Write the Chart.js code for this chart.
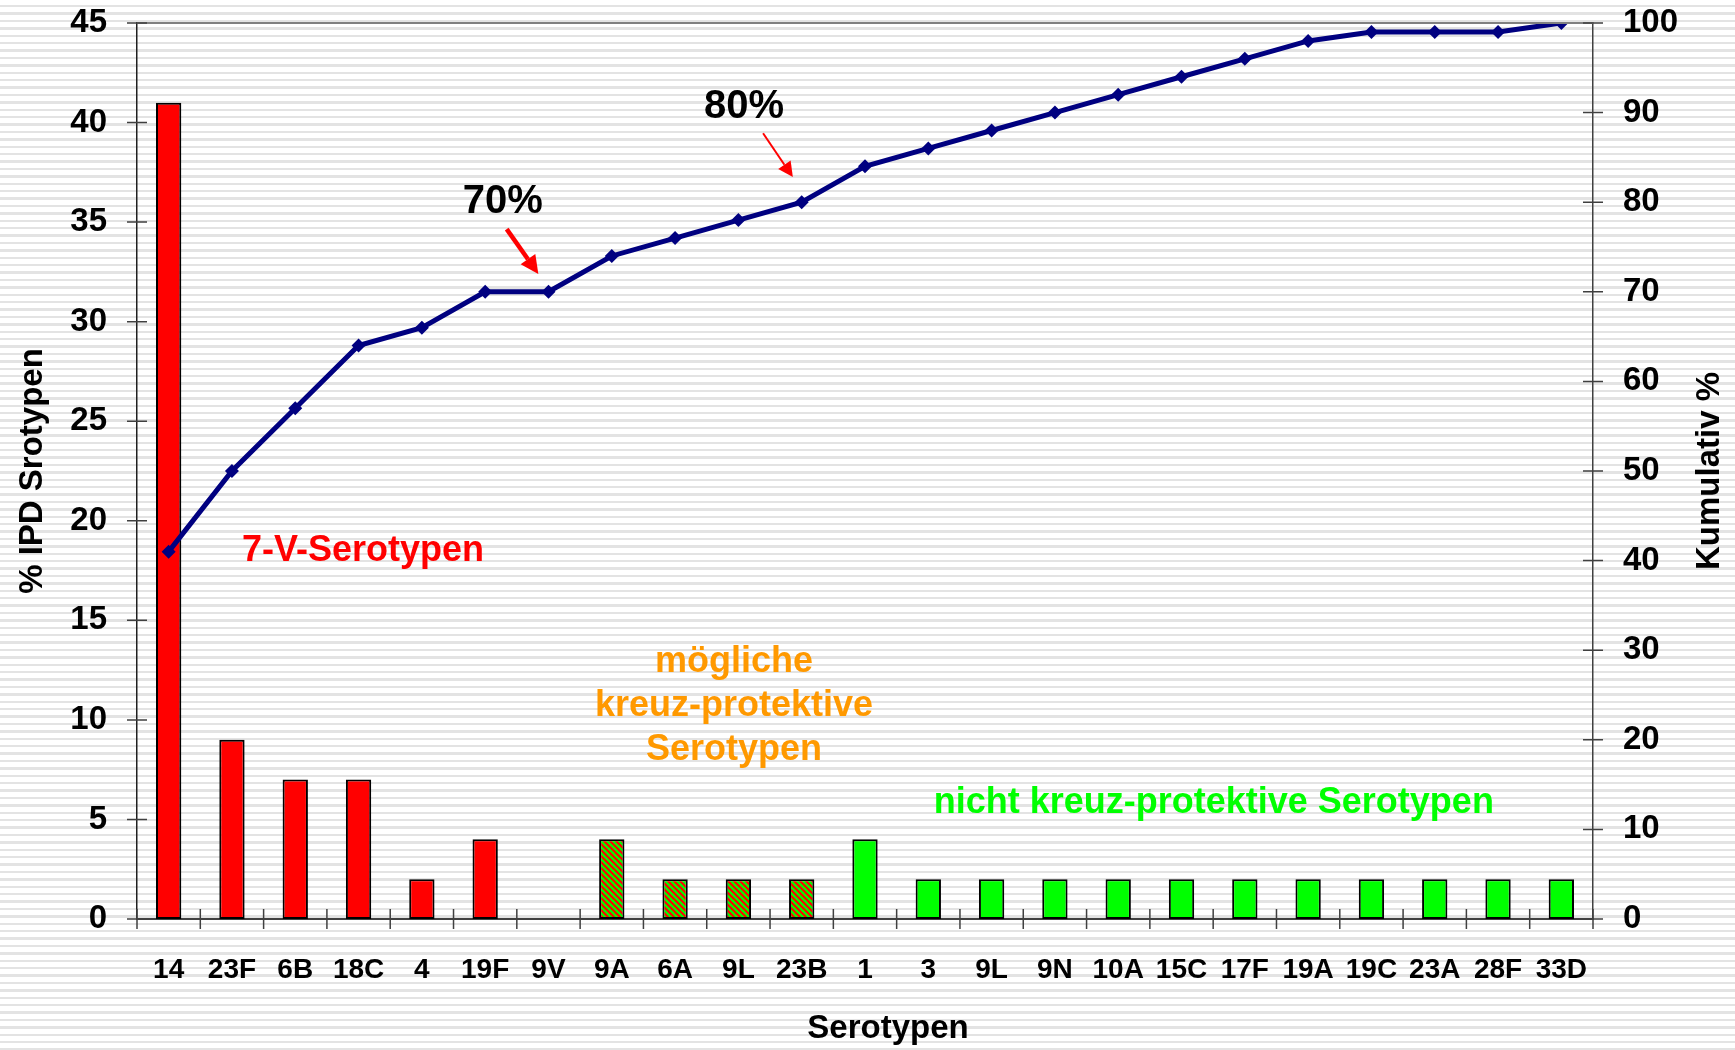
<!DOCTYPE html>
<html>
<head>
<meta charset="utf-8">
<script src="https://cdn.jsdelivr.net/npm/chart.js@4.4.0/dist/chart.umd.min.js"></script>
<style>
  html, body {
    margin: 0;
    padding: 0;
    background: repeating-linear-gradient(to bottom, #ffffff 0px, #ffffff 5px, #e3e3e3 5px, #e3e3e3 7.4px);
  }
  #wrap { width: 1735px; height: 1050px; position: relative; }
</style>
</head>
<body>
<div id="wrap"><canvas id="chart" width="1735" height="1050"></canvas></div>
<script>
// Serotypen und Werte
const serotypes = ["14", "23F", "6B", "18C", "4", "19F", "9V", "9A", "6A", "9L", "23B", "1", "3", "9L", "9N", "10A", "15C", "17F", "19A", "19C", "23A", "28F", "33D"];
const ipdPercent = [41, 9, 7, 7, 2, 4, 0, 4, 2, 2, 2, 4, 2, 2, 2, 2, 2, 2, 2, 2, 2, 2, 2];
const cumulative = [41, 50, 57, 64, 66, 70, 70, 74, 76, 78, 80, 84, 86, 88, 90, 92, 94, 96, 98, 99, 99, 99, 100];
// Gruppe: r = 7-V, x = kreuz-protektiv (schraffiert), g = nicht kreuz-protektiv
const groups = ["r", "r", "r", "r", "r", "r", "r", "x", "x", "x", "x", "g", "g", "g", "g", "g", "g", "g", "g", "g", "g", "g", "g"];
const leftTicks = [0, 5, 10, 15, 20, 25, 30, 35, 40, 45];
const rightTicks = [0, 10, 20, 30, 40, 50, 60, 70, 80, 90, 100];

// Beschriftungen im Diagramm (Positionen in Datenwerten)
const labels = [
  { lines: ["7-V-Serotypen"], x: 3.07, y: 18.5, axis: "y", color: "#ff0000", size: 36 },
  { lines: ["mögliche", "kreuz-protektive", "Serotypen"], x: 8.93, y: 10.7, axis: "y", color: "#ff9900", size: 36 },
  { lines: ["nicht kreuz-protektive Serotypen"], x: 16.51, y: 5.8, axis: "y", color: "#00ff00", size: 36 },
  { lines: ["70%"], x: 5.28, y: 80.0, axis: "y1", color: "#000000", size: 40 },
  { lines: ["80%"], x: 9.09, y: 90.6, axis: "y1", color: "#000000", size: 40 },
];
const arrows = [
  { x0: 5.34, y0: 77.0, x1: 5.84, y1: 72.0, width: 4.5, head: 18 },
  { x0: 9.39, y0: 87.7, x1: 9.86, y1: 82.8, width: 2, head: 15 },
];

function hatch() {
  const c = document.createElement("canvas");
  c.width = 6; c.height = 6;
  const g = c.getContext("2d");
  g.fillStyle = "#ff0000";
  g.fillRect(0, 0, 6, 6);
  g.strokeStyle = "#00ff00";
  g.lineWidth = 2.2;
  g.beginPath();
  g.moveTo(-3, -3); g.lineTo(9, 9);
  g.moveTo(-3, 3); g.lineTo(3, 9);
  g.moveTo(3, -3); g.lineTo(9, 3);
  g.stroke();
  return g.createPattern(c, "repeat");
}

const ctx = document.getElementById("chart").getContext("2d");
const hatchPattern = hatch();
const barColors = groups.map(g => g === "r" ? "#ff0000" : g === "g" ? "#00ff00" : hatchPattern);

const font = "'Liberation Sans', Arial, sans-serif";

const decor = {
  id: "decor",
  afterDraw(chart) {
    const c = chart.ctx;
    const a = chart.chartArea;
    const xs = chart.scales.x, yl = chart.scales.y, yr = chart.scales.y1;
    c.save();
    // obere Linie
    c.strokeStyle = "#808080";
    c.lineWidth = 2;
    c.beginPath();
    c.moveTo(a.left, a.top); c.lineTo(a.right, a.top);
    c.stroke();
    // Achsenstriche
    c.strokeStyle = "#404040";
    c.lineWidth = 1.5;
    c.beginPath();
    leftTicks.forEach(v => { const y = yl.getPixelForValue(v); c.moveTo(a.left - 10, y); c.lineTo(a.left + 10, y); });
    rightTicks.forEach(v => { const y = yr.getPixelForValue(v); c.moveTo(a.right - 10, y); c.lineTo(a.right + 10, y); });
    for (let i = 0; i <= serotypes.length; i++) {
      const x = xs.getPixelForValue(i - 0.5);
      c.moveTo(x, a.bottom - 10); c.lineTo(x, a.bottom + 10);
    }
    c.stroke();

    // Achsentitel
    c.fillStyle = "#000";
    c.textAlign = "center";
    c.textBaseline = "middle";
    c.font = "bold 33px " + font;
    c.fillText("Serotypen", 888, 1029);
    c.save();
    c.translate(33, (a.top + a.bottom) / 2);
    c.rotate(-Math.PI / 2);
    c.fillText("% IPD Srotypen", 0, 0);
    c.restore();
    c.save();
    c.translate(1710, (a.top + a.bottom) / 2);
    c.rotate(-Math.PI / 2);
    c.fillText("Kumulativ %", 0, 0);
    c.restore();

    // Textbeschriftungen
    labels.forEach(l => {
      const sc = chart.scales[l.axis];
      const x = xs.getPixelForValue(l.x);
      const y = sc.getPixelForValue(l.y);
      const lh = l.size * 1.23;
      c.font = "bold " + l.size + "px " + font;
      c.fillStyle = l.color;
      l.lines.forEach((t, i) => {
        c.fillText(t, x, y + (i - (l.lines.length - 1) / 2) * lh);
      });
    });

    // Pfeile
    arrows.forEach(ar => {
      const x0 = xs.getPixelForValue(ar.x0), y0 = yr.getPixelForValue(ar.y0);
      const x1 = xs.getPixelForValue(ar.x1), y1 = yr.getPixelForValue(ar.y1);
      const ang = Math.atan2(y1 - y0, x1 - x0);
      const hl = ar.head, hw = ar.head * 0.5;
      const bx = x1 - hl * Math.cos(ang), by = y1 - hl * Math.sin(ang);
      c.strokeStyle = "#ff0000";
      c.fillStyle = "#ff0000";
      c.lineWidth = ar.width;
      c.beginPath();
      c.moveTo(x0, y0); c.lineTo(bx, by);
      c.stroke();
      c.beginPath();
      c.moveTo(x1, y1);
      c.lineTo(bx + hw * Math.sin(ang), by - hw * Math.cos(ang));
      c.lineTo(bx - hw * Math.sin(ang), by + hw * Math.cos(ang));
      c.closePath();
      c.fill();
    });
    c.restore();
  },
};

function fitY(width) {
  return s => {
    s.width = width;
    s.paddingTop = 0;
    s.paddingBottom = 0;
  };
}

new Chart(ctx, {
  type: "bar",
  data: {
    labels: serotypes,
    datasets: [
      {
        type: "line",
        label: "Kumulativ %",
        data: cumulative,
        yAxisID: "y1",
        borderColor: "#000080",
        backgroundColor: "#000080",
        borderWidth: 5,
        pointStyle: "rectRot",
        pointRadius: 7,
        pointBorderWidth: 0,
        tension: 0,
        order: 0,
      },
      {
        label: "% IPD",
        data: ipdPercent,
        yAxisID: "y",
        backgroundColor: barColors,
        borderColor: "#000000",
        borderWidth: 2,
        borderSkipped: false,
        barPercentage: 0.4,
        categoryPercentage: 1,
        order: 1,
      },
    ],
  },
  options: {
    responsive: false,
    animation: false,
    devicePixelRatio: 1,
    layout: { padding: { top: 23, left: 0, right: 0, bottom: 0 } },
    plugins: { legend: { display: false }, tooltip: { enabled: false } },
    scales: {
      x: {
        grid: { display: false },
        border: { display: true, color: "#404040", width: 2 },
        ticks: { color: "#000", font: { family: font, size: 28, weight: "bold" }, padding: 26, maxRotation: 0, autoSkip: false },
        afterFit(s) { s.height = 131; s.paddingLeft = 0; s.paddingRight = 0; },
      },
      y: {
        position: "left",
        min: 0,
        max: 45,
        grid: { display: false },
        border: { display: true, color: "#202020", width: 1.5 },
        ticks: { stepSize: 5, color: "#000", font: { family: font, size: 33, weight: "bold" }, padding: 22 },
        afterFit: fitY(137),
      },
      y1: {
        position: "right",
        min: 0,
        max: 100,
        grid: { display: false },
        border: { display: true, color: "#404040", width: 1.5 },
        ticks: { stepSize: 10, color: "#000", font: { family: font, size: 33, weight: "bold" }, padding: 22 },
        afterFit: fitY(142),
      },
    },
  },
  plugins: [decor],
});
</script>
</body>
</html>
